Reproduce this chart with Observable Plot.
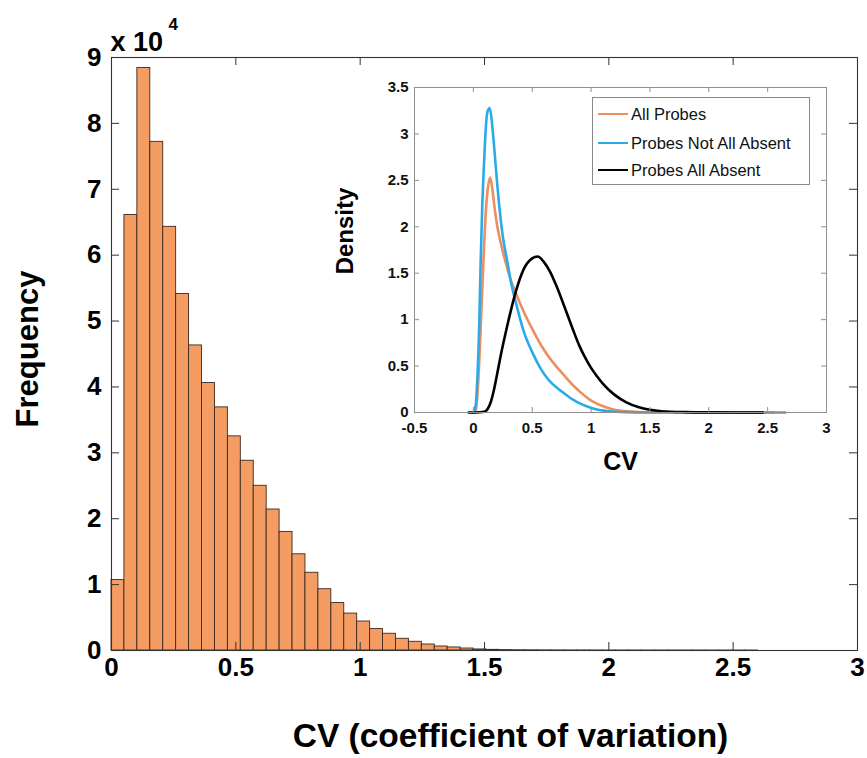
<!DOCTYPE html>
<html>
<head>
<meta charset="utf-8">
<script src="https://cdn.jsdelivr.net/npm/d3@7"></script>
<script src="https://cdn.jsdelivr.net/npm/@observablehq/plot@0.6"></script>
<style>
  html, body { margin: 0; padding: 0; background: #fff; }
  #wrap { position: relative; width: 867px; height: 758px; overflow: hidden; font-family: "Liberation Sans", Arial, Helvetica, sans-serif; }
  #wrap svg { position: absolute; }
  #legend { position: absolute; background: #fff; border: 1px solid #8a8a8a; box-sizing: border-box; }
  .lrow { position: absolute; left: 5px; height: 20px; display: flex; align-items: center; font-size: 16.5px; color: #111; white-space: nowrap; }
  .lline { display: inline-block; width: 30px; height: 2.5px; margin-right: 3px; }
</style>
</head>
<body>
<div id="wrap"></div>
<script>
const FONT = '"Liberation Sans", Arial, Helvetica, sans-serif';

// ---- Main histogram (counts in units of 1e4), 50 bins over CV 0..2.6 ----
const binStart = 0;
const binWidth = 0.052;
const counts1e4 = [
  1.07, 6.61, 8.84, 7.72, 6.43, 5.41, 4.63, 4.06, 3.69, 3.25,
  2.88, 2.50, 2.14, 1.80, 1.46, 1.18, 0.93, 0.72, 0.56, 0.44,
  0.325, 0.254, 0.178, 0.132, 0.091, 0.061, 0.046, 0.030, 0.016, 0.010,
  0.006, 0.004, 0.003, 0.002, 0.0015, 0.001, 0.001, 0.0008, 0.0006, 0.0005,
  0.0004, 0.0003, 0.0003, 0.0002, 0.0002, 0.0002, 0.0001, 0.0001, 0.0001, 0.0001
];
const mainXTicks = [0, 0.5, 1, 1.5, 2, 2.5, 3];
const mainXTickLabels = ["0", "0.5", "1", "1.5", "2", "2.5", "3"];
const mainYTicks = [0, 1, 2, 3, 4, 5, 6, 7, 8, 9];
const mainYTickLabels = ["0", "1", "2", "3", "4", "5", "6", "7", "8", "9"];

// ---- Inset density curves ----
const allProbesX = [0.0, 0.02, 0.04, 0.062, 0.08, 0.091, 0.105, 0.12, 0.142, 0.16, 0.176, 0.2, 0.232, 0.289, 0.32, 0.36, 0.43, 0.5, 0.573, 0.64, 0.715, 0.757, 0.857, 0.9, 0.998, 1.04, 1.14, 1.18, 1.28, 1.4, 1.6, 2.0, 2.55];
const allProbesY = [0, 0.02, 0.3, 0.9, 1.45, 1.8, 2.15, 2.38, 2.53, 2.42, 2.25, 2.03, 1.83, 1.55, 1.42, 1.29, 1.08, 0.90, 0.73, 0.6, 0.48, 0.42, 0.28, 0.23, 0.13, 0.1, 0.05, 0.035, 0.015, 0.006, 0.002, 0.0005, 0];

const notAbsentX = [-0.01, 0.0, 0.02, 0.034, 0.05, 0.062, 0.075, 0.091, 0.105, 0.12, 0.139, 0.155, 0.176, 0.2, 0.218, 0.25, 0.289, 0.32, 0.36, 0.43, 0.5, 0.573, 0.64, 0.715, 0.757, 0.857, 0.9, 0.998, 1.04, 1.14, 1.18, 1.3, 1.5, 2.0, 2.65];
const notAbsentY = [0, 0, 0.08, 0.37, 0.95, 1.62, 2.2, 2.69, 3.05, 3.24, 3.28, 3.16, 2.87, 2.5, 2.25, 1.9, 1.62, 1.40, 1.19, 0.865, 0.65, 0.47, 0.35, 0.26, 0.22, 0.13, 0.1, 0.05, 0.035, 0.015, 0.01, 0.004, 0.001, 0, 0];

const allAbsentX = [-0.04, 0.0, 0.05, 0.1, 0.12, 0.15, 0.176, 0.2, 0.232, 0.289, 0.36, 0.43, 0.5, 0.545, 0.6, 0.65, 0.7, 0.75, 0.8, 0.85, 0.9, 0.95, 1.0, 1.05, 1.1, 1.15, 1.2, 1.3, 1.4, 1.5, 1.6, 1.8, 2.0, 2.46];
const allAbsentY = [0, 0, 0.002, 0.012, 0.035, 0.12, 0.25, 0.4, 0.61, 0.94, 1.30, 1.55, 1.66, 1.68, 1.62, 1.52, 1.38, 1.22, 1.05, 0.88, 0.72, 0.59, 0.48, 0.39, 0.31, 0.245, 0.19, 0.11, 0.06, 0.03, 0.014, 0.004, 0.001, 0];

const seriesNames = ["All Probes", "Probes Not All Absent", "Probes All Absent"];
const seriesColors = ["#EE8E5E", "#2AAAE8", "#000000"];

const insetXTicks = [-0.5, 0, 0.5, 1, 1.5, 2, 2.5, 3];
const insetXTickLabels = ["-0.5", "0", "0.5", "1", "1.5", "2", "2.5", "3"];
const insetYTicks = [0, 0.5, 1, 1.5, 2, 2.5, 3, 3.5];
const insetYTickLabels = ["0", "0.5", "1", "1.5", "2", "2.5", "3", "3.5"];

// ---------- build main chart ----------
const bins = counts1e4.map((c, i) => ({
  x1: binStart + i * binWidth,
  x2: binStart + (i + 1) * binWidth,
  count: c * 1e4
}));

const M = {width: 867, height: 758, left: 111, right: 10, top: 57, bottom: 108};
const mpw = M.width - M.left - M.right;
const mph = M.height - M.top - M.bottom;
const tk = 8;

const main = Plot.plot({
  width: M.width, height: M.height,
  marginLeft: M.left, marginRight: M.right, marginTop: M.top, marginBottom: M.bottom,
  x: {domain: [0, 3], axis: null},
  y: {domain: [0, 90000], axis: null},
  style: {fontFamily: FONT, background: "transparent", overflow: "visible"},
  marks: [
    Plot.rect(bins, {x1: "x1", x2: "x2", y1: () => 0, y2: "count", fill: "#F49C62", stroke: "#3b2a1f", strokeWidth: 0.9}),
    Plot.frame({stroke: "#333", strokeWidth: 1.1}),
    Plot.tickX(mainXTicks, {x: d => d, insetTop: mph - tk, stroke: "#333"}),
    Plot.tickX(mainXTicks, {x: d => d, insetBottom: mph - tk, stroke: "#333"}),
    Plot.tickY(mainYTicks, {y: d => d * 1e4, insetRight: mpw - tk, stroke: "#333"}),
    Plot.tickY(mainYTicks, {y: d => d * 1e4, insetLeft: mpw - tk, stroke: "#333"}),
    Plot.text(mainXTicks, {x: d => d, text: (d, i) => mainXTickLabels[i], frameAnchor: "bottom", lineAnchor: "top", dy: 7, fontSize: 26, fontWeight: "bold", fill: "#000"}),
    Plot.text(mainYTicks, {y: d => d * 1e4, text: (d, i) => mainYTickLabels[i], frameAnchor: "left", textAnchor: "end", dx: -10, fontSize: 26, fontWeight: "bold", fill: "#000"}),
    Plot.text(["Frequency"], {frameAnchor: "left", textAnchor: "middle", rotate: -90, dx: -83, dy: -5, fontSize: 31, fontWeight: "bold", fill: "#000"}),
    Plot.text(["CV (coefficient of variation)"], {frameAnchor: "bottom", textAnchor: "middle", lineAnchor: "bottom", dx: 26, dy: 96, fontSize: 33.5, fontWeight: "bold", fill: "#000"}),
    Plot.text(["x 10"], {frameAnchor: "top-left", textAnchor: "start", lineAnchor: "bottom", dx: -1, dy: -7, fontSize: 27, fontWeight: "bold", fill: "#000"}),
    Plot.text(["4"], {frameAnchor: "top-left", textAnchor: "start", lineAnchor: "bottom", dx: 57, dy: -28, fontSize: 17, fontWeight: "bold", fill: "#000"})
  ]
});
main.style.left = "0px";
main.style.top = "0px";

// ---------- build inset ----------
const I = {x: 300, y: 75, width: 540, height: 410, left: 114, right: 14, top: 12, bottom: 73};
const ipw = I.width - I.left - I.right;
const iph = I.height - I.top - I.bottom;
const itk = 5;

const curves = [
  ...allProbesX.map((x, i) => ({x, y: allProbesY[i], s: seriesNames[0]})),
  ...notAbsentX.map((x, i) => ({x, y: notAbsentY[i], s: seriesNames[1]})),
  ...allAbsentX.map((x, i) => ({x, y: allAbsentY[i], s: seriesNames[2]}))
];

const inset = Plot.plot({
  width: I.width, height: I.height,
  marginLeft: I.left, marginRight: I.right, marginTop: I.top, marginBottom: I.bottom,
  x: {domain: [-0.5, 3], axis: null},
  y: {domain: [0, 3.5], axis: null},
  color: {domain: seriesNames, range: seriesColors},
  style: {fontFamily: FONT, background: "transparent", overflow: "visible"},
  marks: [
    Plot.frame({fill: "#fff", stroke: "none"}),
    Plot.line(curves, {x: "x", y: "y", z: "s", stroke: "s", strokeWidth: 2.6, curve: "monotone-x"}),
    Plot.frame({stroke: "#8f8f8f", strokeWidth: 1}),
    Plot.tickX(insetXTicks, {x: d => d, insetTop: iph - itk, stroke: "#8f8f8f"}),
    Plot.tickX(insetXTicks, {x: d => d, insetBottom: iph - itk, stroke: "#8f8f8f"}),
    Plot.tickY(insetYTicks, {y: d => d, insetRight: ipw - itk, stroke: "#8f8f8f"}),
    Plot.tickY(insetYTicks, {y: d => d, insetLeft: ipw - itk, stroke: "#8f8f8f"}),
    Plot.text(insetXTicks, {x: d => d, text: (d, i) => insetXTickLabels[i], frameAnchor: "bottom", lineAnchor: "top", dy: 10, fontSize: 15, fontWeight: "bold", fill: "#111"}),
    Plot.text(insetYTicks, {y: d => d, text: (d, i) => insetYTickLabels[i], frameAnchor: "left", textAnchor: "end", dx: -6, fontSize: 15, fontWeight: "bold", fill: "#111"}),
    Plot.text(["Density"], {frameAnchor: "left", textAnchor: "middle", rotate: -90, dx: -69, dy: -19, fontSize: 24, fontWeight: "bold", fill: "#000"}),
    Plot.text(["CV"], {frameAnchor: "bottom", textAnchor: "middle", lineAnchor: "bottom", dy: 57, fontSize: 25, fontWeight: "bold", fill: "#000"})
  ]
});
inset.style.left = I.x + "px";
inset.style.top = I.y + "px";

const wrap = document.getElementById("wrap");
wrap.appendChild(main);
wrap.appendChild(inset);

// ---------- legend ----------
const legend = document.createElement("div");
legend.id = "legend";
legend.style.left = "592px";
legend.style.top = "97px";
legend.style.width = "218px";
legend.style.height = "88px";
const rowCenters = [16, 45, 72];
seriesNames.forEach((name, i) => {
  const row = document.createElement("div");
  row.className = "lrow";
  row.style.top = (rowCenters[i] - 10) + "px";
  const ln = document.createElement("span");
  ln.className = "lline";
  ln.style.background = seriesColors[i];
  const tx = document.createElement("span");
  tx.textContent = name;
  row.appendChild(ln);
  row.appendChild(tx);
  legend.appendChild(row);
});
wrap.appendChild(legend);
</script>
</body>
</html>
